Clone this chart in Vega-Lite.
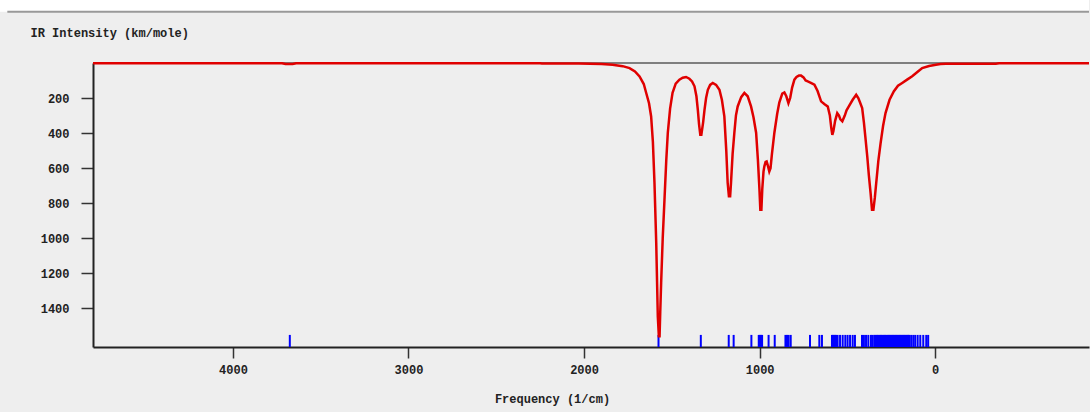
{
  "$schema": "https://vega.github.io/schema/vega-lite/v6.json",
  "width": 996,
  "height": 284,
  "autosize": {"type": "none"},
  "padding": {"left": 93, "top": 63, "right": 1, "bottom": 65},
  "background": "#eeeeee",
  "config": {
    "view": {"stroke": null},
    "font": "Liberation Mono",
    "axis": {
      "labelFont": "Liberation Mono",
      "labelFontWeight": "bold",
      "labelFontSize": 12,
      "labelColor": "#222222",
      "titleFont": "Liberation Mono",
      "titleFontWeight": "bold",
      "titleFontSize": 12,
      "titleColor": "#222222",
      "domainColor": "#222222",
      "domainWidth": 2,
      "tickColor": "#333333",
      "tickWidth": 1.5,
      "grid": false
    }
  },
  "datasets": {
    "frame": [{"part": "frame"}],
    "spectrum": [
      {"freq": 4797, "ir": 1}, {"freq": 3720, "ir": 1}, {"freq": 3700, "ir": 6}, {"freq": 3660, "ir": 6},
      {"freq": 3640, "ir": 1}, {"freq": 2250, "ir": 1}, {"freq": 2240, "ir": 3}, {"freq": 2030, "ir": 3},
      {"freq": 1900, "ir": 6}, {"freq": 1838, "ir": 10}, {"freq": 1780, "ir": 18}, {"freq": 1741, "ir": 29},
      {"freq": 1710, "ir": 48}, {"freq": 1684, "ir": 77}, {"freq": 1660, "ir": 120}, {"freq": 1646, "ir": 171},
      {"freq": 1630, "ir": 230}, {"freq": 1618, "ir": 305}, {"freq": 1608, "ir": 450}, {"freq": 1599, "ir": 683},
      {"freq": 1589, "ir": 1026}, {"freq": 1580, "ir": 1447}, {"freq": 1574, "ir": 1560}, {"freq": 1570, "ir": 1560},
      {"freq": 1566, "ir": 1420}, {"freq": 1561, "ir": 1255}, {"freq": 1552, "ir": 1000}, {"freq": 1542, "ir": 781},
      {"freq": 1532, "ir": 560}, {"freq": 1523, "ir": 398}, {"freq": 1510, "ir": 260}, {"freq": 1496, "ir": 170},
      {"freq": 1478, "ir": 118}, {"freq": 1457, "ir": 95}, {"freq": 1438, "ir": 84}, {"freq": 1419, "ir": 80},
      {"freq": 1400, "ir": 90}, {"freq": 1385, "ir": 105}, {"freq": 1371, "ir": 133}, {"freq": 1360, "ir": 190},
      {"freq": 1352, "ir": 267}, {"freq": 1345, "ir": 350}, {"freq": 1338, "ir": 410}, {"freq": 1332, "ir": 410},
      {"freq": 1322, "ir": 340}, {"freq": 1314, "ir": 267}, {"freq": 1305, "ir": 200}, {"freq": 1295, "ir": 153},
      {"freq": 1282, "ir": 125}, {"freq": 1267, "ir": 114}, {"freq": 1248, "ir": 125}, {"freq": 1229, "ir": 153},
      {"freq": 1215, "ir": 210}, {"freq": 1201, "ir": 305}, {"freq": 1190, "ir": 500}, {"freq": 1182, "ir": 685},
      {"freq": 1175, "ir": 760}, {"freq": 1168, "ir": 760}, {"freq": 1163, "ir": 683}, {"freq": 1154, "ir": 520},
      {"freq": 1144, "ir": 398}, {"freq": 1135, "ir": 300}, {"freq": 1125, "ir": 248}, {"freq": 1105, "ir": 195},
      {"freq": 1087, "ir": 171}, {"freq": 1068, "ir": 190}, {"freq": 1049, "ir": 248}, {"freq": 1035, "ir": 310},
      {"freq": 1020, "ir": 398}, {"freq": 1010, "ir": 550}, {"freq": 1001, "ir": 723}, {"freq": 996, "ir": 838},
      {"freq": 990, "ir": 838}, {"freq": 985, "ir": 720}, {"freq": 978, "ir": 620}, {"freq": 973, "ir": 590},
      {"freq": 966, "ir": 565}, {"freq": 960, "ir": 562}, {"freq": 952, "ir": 590}, {"freq": 945, "ir": 619},
      {"freq": 938, "ir": 600}, {"freq": 930, "ir": 520}, {"freq": 916, "ir": 398}, {"freq": 900, "ir": 290},
      {"freq": 888, "ir": 226}, {"freq": 871, "ir": 175}, {"freq": 859, "ir": 168}, {"freq": 848, "ir": 190},
      {"freq": 836, "ir": 229}, {"freq": 826, "ir": 200}, {"freq": 815, "ir": 140}, {"freq": 802, "ir": 95},
      {"freq": 790, "ir": 80}, {"freq": 776, "ir": 72}, {"freq": 764, "ir": 72}, {"freq": 750, "ir": 82},
      {"freq": 738, "ir": 100}, {"freq": 726, "ir": 105}, {"freq": 708, "ir": 113}, {"freq": 688, "ir": 124},
      {"freq": 670, "ir": 160}, {"freq": 650, "ir": 219}, {"freq": 630, "ir": 235}, {"freq": 612, "ir": 248},
      {"freq": 600, "ir": 300}, {"freq": 592, "ir": 370}, {"freq": 586, "ir": 410}, {"freq": 580, "ir": 390},
      {"freq": 570, "ir": 330}, {"freq": 558, "ir": 286}, {"freq": 548, "ir": 300}, {"freq": 540, "ir": 322},
      {"freq": 529, "ir": 333}, {"freq": 515, "ir": 300}, {"freq": 505, "ir": 270}, {"freq": 492, "ir": 248},
      {"freq": 470, "ir": 210}, {"freq": 450, "ir": 181}, {"freq": 438, "ir": 200}, {"freq": 428, "ir": 225},
      {"freq": 416, "ir": 257}, {"freq": 406, "ir": 340}, {"freq": 398, "ir": 420}, {"freq": 387, "ir": 533},
      {"freq": 378, "ir": 640}, {"freq": 368, "ir": 743}, {"freq": 360, "ir": 838}, {"freq": 352, "ir": 838},
      {"freq": 344, "ir": 770}, {"freq": 336, "ir": 685}, {"freq": 324, "ir": 560}, {"freq": 311, "ir": 457},
      {"freq": 297, "ir": 360}, {"freq": 283, "ir": 286}, {"freq": 260, "ir": 210}, {"freq": 236, "ir": 162},
      {"freq": 212, "ir": 130}, {"freq": 188, "ir": 114}, {"freq": 160, "ir": 95}, {"freq": 131, "ir": 76},
      {"freq": 100, "ir": 50}, {"freq": 74, "ir": 29}, {"freq": 35, "ir": 17}, {"freq": -4, "ir": 10},
      {"freq": -30, "ir": 6}, {"freq": -61, "ir": 4}, {"freq": -345, "ir": 4}, {"freq": -364, "ir": 1},
      {"freq": -876, "ir": 1}
    ],
    "sticks": [
      {"freq": 3676}, {"freq": 1576}, {"freq": 1335}, {"freq": 1176}, {"freq": 1148}, {"freq": 1047},
      {"freq": 1005}, {"freq": 998}, {"freq": 992}, {"freq": 986}, {"freq": 949}, {"freq": 914},
      {"freq": 853}, {"freq": 844}, {"freq": 835}, {"freq": 823}, {"freq": 713}, {"freq": 660}, {"freq": 645},
      {"freq": 588}, {"freq": 582}, {"freq": 576}, {"freq": 570}, {"freq": 565}, {"freq": 556}, {"freq": 542},
      {"freq": 527}, {"freq": 512}, {"freq": 499}, {"freq": 485}, {"freq": 470}, {"freq": 457},
      {"freq": 417}, {"freq": 406}, {"freq": 394}, {"freq": 381}, {"freq": 366}, {"freq": 357},
      {"freq": 347}, {"freq": 341}, {"freq": 335}, {"freq": 330}, {"freq": 324}, {"freq": 318},
      {"freq": 312}, {"freq": 307}, {"freq": 301}, {"freq": 295}, {"freq": 289}, {"freq": 284},
      {"freq": 278}, {"freq": 272}, {"freq": 266}, {"freq": 261}, {"freq": 255}, {"freq": 249},
      {"freq": 243}, {"freq": 238}, {"freq": 232}, {"freq": 226}, {"freq": 221}, {"freq": 215},
      {"freq": 209}, {"freq": 203}, {"freq": 198}, {"freq": 192}, {"freq": 186}, {"freq": 180},
      {"freq": 175}, {"freq": 169}, {"freq": 163}, {"freq": 157}, {"freq": 152}, {"freq": 148},
      {"freq": 137}, {"freq": 125}, {"freq": 114}, {"freq": 100}, {"freq": 85}, {"freq": 68},
      {"freq": 51}, {"freq": 40}
    ]
  },
  "layer": [
    {
      "data": {"name": "frame"},
      "mark": {"type": "rect", "color": "#ffffff", "clip": false},
      "encoding": {
        "x": {"datum": 5330, "type": "quantitative", "scale": {"domain": [-876, 4797], "reverse": true, "nice": false, "zero": false}},
        "x2": {"datum": -876},
        "y": {"datum": -365, "type": "quantitative", "scale": {"domain": [0, 1621], "reverse": true, "nice": false, "zero": false}},
        "y2": {"datum": -293}
      }
    },
    {
      "data": {"name": "frame"},
      "mark": {"type": "rule", "color": "#999999", "strokeWidth": 2, "clip": false},
      "encoding": {
        "x": {"datum": 5285, "type": "quantitative"},
        "x2": {"datum": -876},
        "y": {"datum": -293, "type": "quantitative"}
      }
    },
    {
      "data": {"name": "frame"},
      "mark": {"type": "rule", "color": "#111111", "strokeWidth": 1.2},
      "encoding": {
        "x": {"datum": 4797, "type": "quantitative"},
        "x2": {"datum": -876},
        "y": {"datum": 0, "type": "quantitative"}
      }
    },
    {
      "data": {"name": "sticks"},
      "mark": {"type": "rule", "color": "#0000ff", "strokeWidth": 2},
      "encoding": {
        "x": {"field": "freq", "type": "quantitative"},
        "y": {"datum": 1552, "type": "quantitative"},
        "y2": {"datum": 1621}
      }
    },
    {
      "data": {"name": "spectrum"},
      "mark": {"type": "line", "color": "#e00000", "strokeWidth": 2.5, "interpolate": "linear"},
      "encoding": {
        "x": {
          "field": "freq",
          "type": "quantitative",
          "axis": {
            "values": [4000, 3000, 2000, 1000, 0],
            "format": "d",
            "tickSize": 11,
            "labelPadding": 6,
            "title": "Frequency (1/cm)",
            "titleX": 459,
            "titleY": 51,
            "titleAnchor": null,
            "titleAlign": "center",
            "titleBaseline": "middle"
          }
        },
        "y": {
          "field": "ir",
          "type": "quantitative",
          "axis": {
            "values": [200, 400, 600, 800, 1000, 1200, 1400],
            "format": "d",
            "tickSize": 12,
            "labelPadding": 12,
            "title": "IR Intensity (km/mole)",
            "titleAngle": 0,
            "titleX": -63,
            "titleY": -31,
            "titleAlign": "left",
            "titleBaseline": "middle"
          }
        }
      }
    }
  ]
}
